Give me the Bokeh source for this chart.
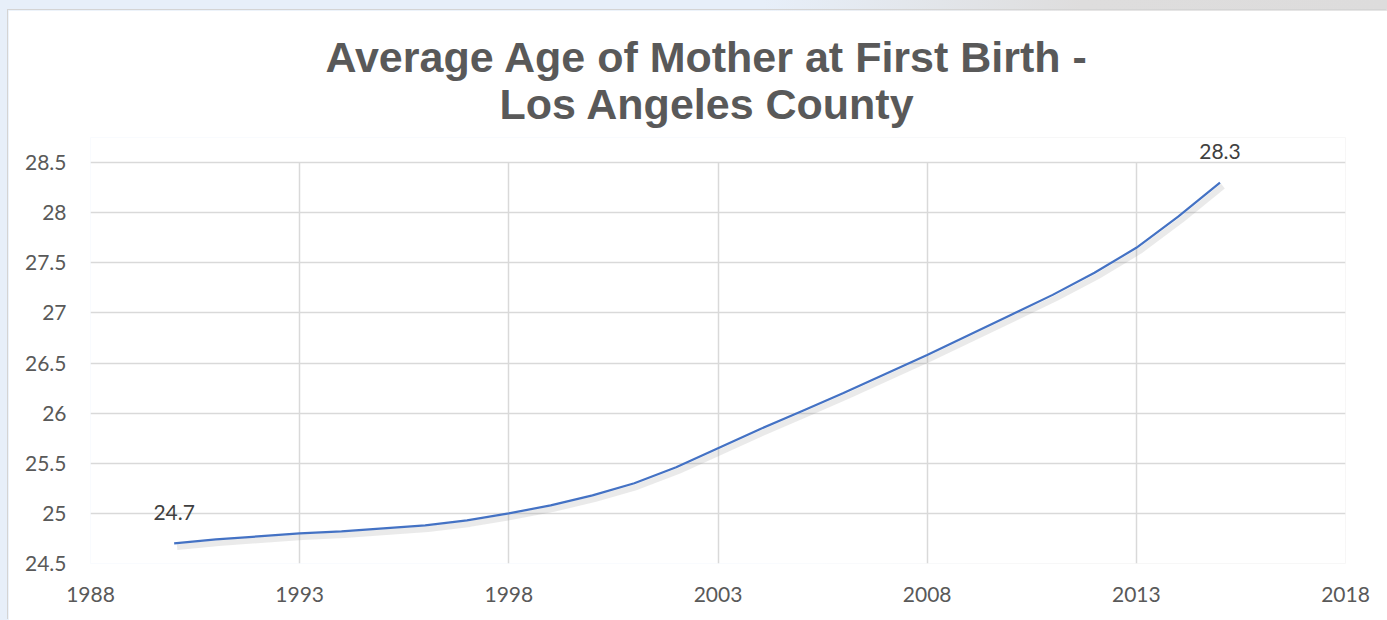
from bokeh.plotting import figure
from bokeh.models import (ColumnDataSource, FixedTicker, NumeralTickFormatter,
                          Title, LabelSet, Range1d)
from bokeh.core.properties import value
from bokeh.transform import dodge
from bokeh.embed import file_html
from bokeh.resources import INLINE

# ---- data ----
years = [1990, 1991, 1992, 1993, 1994, 1995, 1996, 1997, 1998, 1999,
         2000, 2001, 2002, 2003, 2004, 2005, 2006, 2007, 2008, 2009,
         2010, 2011, 2012, 2013, 2014, 2015]
avg_age = [24.70, 24.74, 24.77, 24.80, 24.82, 24.85, 24.88, 24.93, 25.00, 25.08,
           25.18, 25.30, 25.46, 25.65, 25.84, 26.02, 26.20, 26.39, 26.58, 26.78,
           26.98, 27.18, 27.40, 27.65, 27.96, 28.30]
x_ticks = [1988, 1993, 1998, 2003, 2008, 2013, 2018]
y_ticks = [24.5, 25.0, 25.5, 26.0, 26.5, 27.0, 27.5, 28.0, 28.5]
title_lines = ["Average Age of Mother at First Birth -", "Los Angeles County"]
label_years = [years[0], years[-1]]
label_values = [avg_age[0], avg_age[-1]]
label_texts = ["24.7", "28.3"]

src = ColumnDataSource(dict(x=years, y=avg_age))
lab_src = ColumnDataSource(dict(x=label_years, y=label_values, t=label_texts))

p = figure(width=1379, height=610, output_backend="svg", toolbar_location=None,
           x_range=Range1d(1988, 2018), y_range=Range1d(24.5, 28.75),
           min_border_left=82, min_border_right=42, min_border_top=127,
           min_border_bottom=57)
p.background_fill_color = "white"
p.border_fill_color = "white"
p.outline_line_color = None

# titles (second line added first so it sits closest to the plot)
t2 = Title(text=title_lines[1], align="left", text_font="Liberation Sans",
           text_font_size="43px", text_font_style="bold", text_color="#595959",
           standoff=19, offset=409)
t1 = Title(text=title_lines[0], align="left", text_font="Liberation Sans",
           text_font_size="43px", text_font_style="bold", text_color="#595959",
           standoff=-24, offset=235)
p.add_layout(t2, "above")
p.add_layout(t1, "above")

# axes
for ax in (p.xaxis, p.yaxis):
    ax.axis_line_color = None
    ax.major_tick_line_color = None
    ax.minor_tick_line_color = None
    ax.major_label_text_font = "Lato"
    ax.major_label_text_font_size = "21px"
    ax.major_label_text_color = "#595959"
p.xaxis.ticker = FixedTicker(ticks=x_ticks)
p.yaxis.ticker = FixedTicker(ticks=y_ticks)
p.yaxis.formatter = NumeralTickFormatter(format="0.[0]")
p.xaxis.formatter = NumeralTickFormatter(format="0")
p.yaxis.major_label_standoff = 18
p.xaxis.major_label_standoff = 17

# grids
p.xgrid.ticker = FixedTicker(ticks=x_ticks)
p.ygrid.ticker = FixedTicker(ticks=y_ticks)
for g in (p.xgrid, p.ygrid):
    g.grid_line_color = "#d9d9d9"
    g.grid_line_width = 1.5
try:
    p.xgrid.cross_bounds = (y_ticks[0], y_ticks[-1])
except AttributeError:
    p.xgrid.visible = False
    p.segment(x0=x_ticks, x1=x_ticks, y0=[y_ticks[0]] * len(x_ticks),
              y1=[y_ticks[-1]] * len(x_ticks), line_color="#d9d9d9", line_width=1.5,
              level="underlay")

# shadow + line
p.line(x=dodge("x", 0.07, range=p.x_range), y=dodge("y", -0.035, range=p.y_range),
       source=src, line_color="#7f7f7f", line_alpha=0.16, line_width=6)
p.line(x="x", y="y", source=src, line_color="#4472C4", line_width=2.2)

labels = LabelSet(x="x", y="y", text="t", source=lab_src, text_align="center",
                  text_baseline="middle", y_offset=31, text_font=value("Lato"),
                  text_font_size=value("21px"), text_color=value("#404040"))
p.add_layout(labels)

p.styles = {"box-shadow": "-1px -1px 0 #d4d4d4"}

html = file_html(p, INLINE)
style = ("<style>html,body{background:linear-gradient(to right,#e7eff9 0%,#e7eff9 55%,"
         "#dedddd 78%,#dddcdc 100%);} body{padding:10px 0 0 8px !important;"
         "overflow:hidden;}</style>")
html = html.replace("</head>", style + "</head>", 1)
open("out.html", "w").write(html)
